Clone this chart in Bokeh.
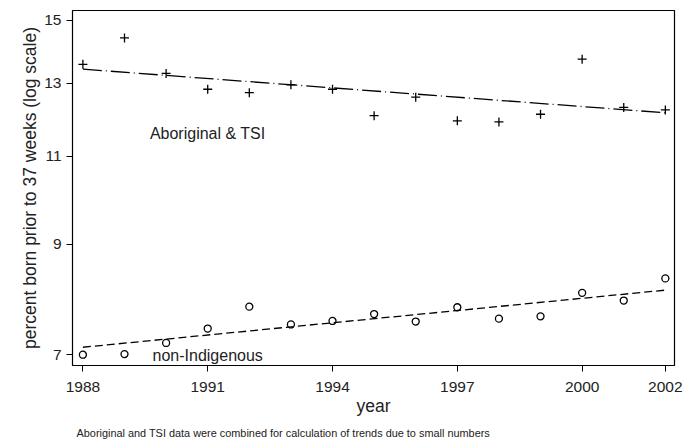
from bokeh.plotting import figure
from bokeh.models import Range1d, FixedTicker, PrintfTickFormatter, Title, ColumnDataSource
from bokeh.core.properties import value
from bokeh.embed import file_html
from bokeh.resources import INLINE

# ---- data ----
years = [1988, 1989, 1990, 1991, 1992, 1993, 1994, 1995, 1996, 1997, 1998, 1999, 2000, 2001, 2002]
aboriginal = [13.57, 14.41, 13.29, 12.82, 12.72, 12.95, 12.82, 12.07, 12.59, 11.93, 11.90, 12.11, 13.73, 12.30, 12.23]
non_indigenous = [7.00, 7.01, 7.19, 7.43, 7.81, 7.50, 7.56, 7.68, 7.55, 7.80, 7.60, 7.64, 8.06, 7.92, 8.33]
trend_years = [1988, 2002]
aboriginal_trend = [13.42, 12.15]
non_indigenous_trend = [7.12, 8.11]
x_ticks = [1988, 1991, 1994, 1997, 2000, 2002]
y_ticks = [7, 9, 11, 13, 15]
label_texts = ["Aboriginal & TSI", "non-Indigenous"]
label_x = [1991, 1991]
label_y = [11.58, 6.98]
note = "Aboriginal and TSI data were combined for calculation of trends due to small numbers"

FONT = "Liberation Sans"

p = figure(width=697, height=444, output_backend="svg", toolbar_location=None,
           x_range=Range1d(1987.75, 2002.22), y_range=Range1d(6.83, 15.34),
           y_axis_type="log",
           min_border_left=72, min_border_right=23, min_border_top=10, min_border_bottom=78)
p.background_fill_color = "white"
p.border_fill_color = "white"
p.outline_line_color = "black"
p.outline_line_width = 1.2
p.xgrid.visible = False
p.ygrid.visible = False

src = ColumnDataSource(dict(x=years, a=aboriginal, n=non_indigenous))
p.line(trend_years, aboriginal_trend, line_color="black", line_width=1.3, line_dash="19 4 1 4")
p.line(trend_years, non_indigenous_trend, line_color="black", line_width=1.3, line_dash="8 4")
p.scatter("x", "a", source=src, marker="cross", size=9, line_color="black", line_width=1.3)
p.scatter("x", "n", source=src, marker="circle", size=7, line_color="black", line_width=1.3,
          fill_color=None)

lab = ColumnDataSource(dict(x=label_x, y=label_y, t=label_texts))
p.text("x", "y", text="t", source=lab, text_font=value(FONT), text_font_size="16px",
       text_align="center", text_baseline="middle", text_color="#222222")

for ax in (p.xaxis[0], p.yaxis[0]):
    ax.axis_line_color = None
    ax.major_tick_in = 0
    ax.major_tick_out = 6
    ax.major_tick_line_color = "black"
    ax.major_tick_line_width = 1
    ax.minor_tick_line_color = None
    ax.major_label_text_font = FONT
    ax.major_label_text_font_size = "15.5px"
    ax.major_label_text_color = "#222222"
    ax.axis_label_text_font = FONT
    ax.axis_label_text_font_size = "17.5px"
    ax.axis_label_text_font_style = "normal"
    ax.axis_label_text_color = "#222222"

p.xaxis[0].ticker = FixedTicker(ticks=x_ticks)
p.xaxis[0].axis_label = "year"
p.xaxis[0].major_label_standoff = 10
p.xaxis[0].axis_label_standoff = 1

p.yaxis[0].ticker = FixedTicker(ticks=y_ticks)
p.yaxis[0].formatter = PrintfTickFormatter(format="%d")
p.yaxis[0].axis_label = "percent born prior to 37 weeks (log scale)"
p.yaxis[0].major_label_standoff = 5
p.yaxis[0].axis_label_standoff = 1

p.add_layout(Title(text=note, align="left", text_font=FONT, text_font_size="10.9px",
                   text_font_style="normal", text_color="#222222", offset=4, standoff=12), "below")

open("out.html", "w").write(file_html(p, INLINE))
